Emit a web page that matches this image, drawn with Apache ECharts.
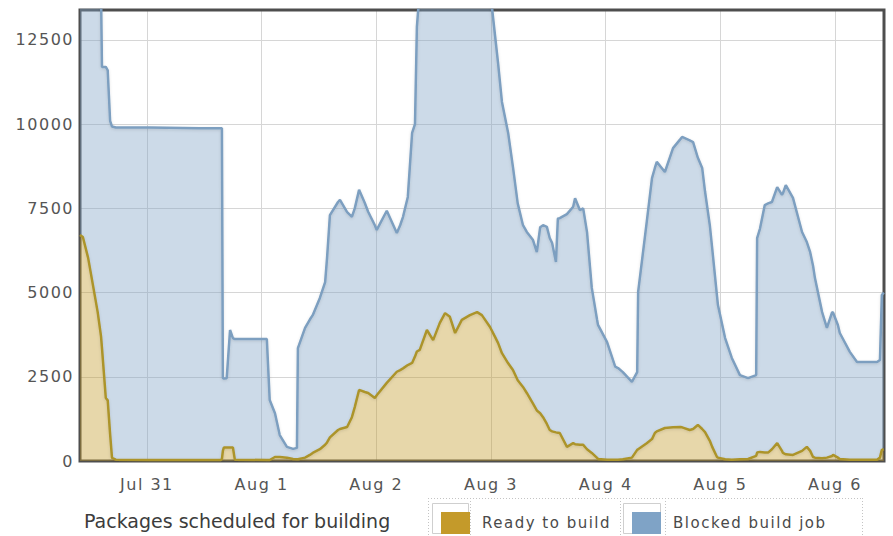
<!DOCTYPE html>
<html>
<head>
<meta charset="utf-8">
<script src="https://cdn.jsdelivr.net/npm/echarts@6/dist/echarts.min.js"></script>
<style>
  html, body { margin: 0; padding: 0; background: #fff; }
  #chart { width: 893px; height: 536px; }
  /* the original labels are letter-spaced, the caption is not */
  #chart text { letter-spacing: 1.5px; }
  #chart text[fill="#3c3c3c"] { letter-spacing: 0; }
</style>
</head>
<body>
<div id="chart"></div>
<script>
// hours from Jul 31 00:00
const hours = [-14.0, -13.4, -12.3, -11.3, -10.3, -9.6, -9.4, -8.6, -8.2, -7.7, -7.3, -6.5, 0.6, 11.1, 15.5, 15.7, 15.9, 16.1, 16.7, 17.4,
  18.0, 18.4, 25.1, 25.7, 26.8, 27.8, 29.3, 30.6, 31.4, 31.6, 33.1, 34.1, 34.7, 36.2, 37.3, 37.7, 38.3, 40.0, 40.4, 41.9,
  42.9, 43.5, 44.4, 45.6, 46.3, 47.7, 48.1, 50.2, 52.3, 53.0, 53.6, 54.6, 55.5, 56.1, 56.5, 57.1, 58.6, 59.9, 61.3, 62.4,
  63.4, 64.5, 65.9, 67.6, 69.1, 70.1, 71.8, 72.8, 73.5, 74.3, 75.6, 76.6, 77.6, 78.7, 79.5, 80.8, 81.6, 82.3, 82.9, 83.7,
  84.3, 84.8, 85.6, 86.0, 86.4, 87.9, 89.2, 89.6, 90.6, 91.3, 92.1, 93.1, 94.2, 94.4, 96.3, 98.0, 98.6, 99.6, 101.5, 102.6,
  102.8, 104.6, 105.7, 106.3, 106.7, 108.4, 110.1, 111.6, 112.0, 113.6, 114.3, 115.3, 116.2, 116.8, 117.8, 118.3, 119.3, 119.5, 121.0, 122.4,
  124.1, 125.8, 127.5, 127.7, 128.3, 129.3, 130.0, 130.8, 131.9, 132.9, 133.1, 133.7, 135.2, 137.1, 138.1, 138.8, 139.4, 139.8, 141.3, 142.3,
  143.4, 143.6, 144.6, 145.0, 147.1, 148.6, 152.8, 153.4, 153.8, 154.2];

const ready = [6710, 6650, 6030, 5230, 4420, 3700, 3350, 1870, 1800, 800, 90, 40, 30, 30, 30, 60, 300, 400, 400, 400,
  400, 40, 30, 30, 120, 120, 100, 60, 50, 50, 100, 180, 240, 350, 480, 550, 700, 920, 950, 1010,
  1300, 1600, 2110, 2050, 2020, 1870, 1950, 2320, 2650, 2700, 2750, 2850, 2910, 3100, 3250, 3300, 3890, 3590, 4100, 4390,
  4280, 3800, 4190, 4330, 4420, 4330, 3980, 3700, 3500, 3200, 2900, 2700, 2400, 2200, 2020, 1700, 1500, 1420, 1300, 1100,
  920, 880, 850, 840, 830, 420, 530, 500, 480, 480, 350, 240, 90, 60, 40, 40, 40, 50, 100, 330,
  350, 530, 650, 830, 880, 980, 1000, 1010, 1000, 920, 950, 1070, 950, 860, 600, 420, 120, 100, 50, 40,
  50, 60, 150, 250, 270, 250, 250, 350, 530, 300, 240, 200, 180, 300, 420, 300, 120, 100, 80, 100,
  150, 180, 100, 60, 40, 40, 40, 100, 330, 350];

const blocked = [7290, 7350, 7970, 8770, 9580, 10200, 8350, 9830, 9800, 9300, 9840, 9860, 9870, 9850, 9850, 9820, 2160, 2050, 2060, 3490,
  3250, 3580, 3590, 1780, 1300, 650, 320, 300, 340, 3300, 3850, 4020, 4090, 4490, 4830, 5480, 6600, 6770, 6800, 6380,
  5950, 5900, 5940, 5610, 5380, 5130, 4910, 5110, 4120, 4300, 4500, 4990, 6830, 6900, 9640, 10700, 10110, 10410, 9900, 9610,
  9720, 10200, 9810, 9670, 9580, 9670, 10020, 9000, 8300, 7460, 6840, 6030, 5250, 4800, 4780, 4860, 4700, 5520, 5700, 5850,
  5700, 5590, 5060, 6360, 6380, 6910, 7020, 7300, 6970, 7020, 6450, 4900, 4110, 3980, 3490, 2760, 2720, 2590, 2250, 2310,
  4670, 6570, 7750, 7870, 8000, 7600, 8290, 8540, 8620, 8600, 8520, 7930, 7750, 7140, 6400, 5890, 4780, 4530, 3600, 3020,
  2500, 2400, 2400, 6370, 6630, 7350, 7400, 7340, 7600, 7600, 7710, 7990, 7630, 6500, 6080, 5900, 5680, 5330, 4340, 3850,
  4270, 4220, 3940, 3740, 3200, 2900, 2900, 2900, 4600, 4650];

const monthNames = ['Jan', 'Feb', 'Mar', 'Apr', 'May', 'Jun', 'Jul', 'Aug', 'Sep', 'Oct', 'Nov', 'Dec'];
const seriesNames = ['Ready to build', 'Blocked build job'];

const HOUR = 3600 * 1000;
const t0 = new Date(2012, 6, 31).getTime();
const readyData = hours.map((h, i) => [t0 + h * HOUR, ready[i]]);
const blockedData = hours.map((h, i) => [t0 + h * HOUR, blocked[i]]);

const chart = echarts.init(document.getElementById('chart'), null, { renderer: 'svg' });

const dotted = { stroke: '#c4c4c4', lineWidth: 1, lineDash: [1, 2] };

chart.setOption({
    animation: false,
    backgroundColor: '#fff',
    textStyle: { fontFamily: 'DejaVu Sans' },
    title: {
        text: 'Packages scheduled for building',
        left: 84, top: 511, padding: 0,
        textStyle: { fontSize: 19, fontWeight: 'normal', color: '#3c3c3c', fontFamily: 'DejaVu Sans' }
    },
    grid: {
        left: 80, right: 9, top: 10, bottom: 75, z: 3,
        show: true, backgroundColor: 'transparent', borderColor: '#4e4e4e', borderWidth: 3
    },
    legend: [
        { data: [seriesNames[0]], left: 436, top: 507 },
        { data: [seriesNames[1]], left: 627, top: 507 }
    ].map(l => Object.assign(l, {
        icon: 'rect', itemWidth: 29, itemHeight: 22, selectedMode: false,
        itemStyle: { borderWidth: 0 },
        textStyle: { fontSize: 15, color: '#4a4a4a', padding: [0, 0, 0, 7] }
    })),
    graphic: [
        { type: 'rect', shape: { x: 432.5, y: 503.5, width: 36, height: 30 }, style: { fill: '#fff', stroke: '#cfcfcf', lineWidth: 1 } },
        { type: 'rect', shape: { x: 623.5, y: 503.5, width: 37, height: 30 }, style: { fill: '#fff', stroke: '#cfcfcf', lineWidth: 1 } },
        { type: 'line', shape: { x1: 428, y1: 498.5, x2: 862, y2: 498.5 }, style: dotted },
        { type: 'line', shape: { x1: 428.5, y1: 498, x2: 428.5, y2: 536 }, style: dotted },
        { type: 'line', shape: { x1: 470.5, y1: 498, x2: 470.5, y2: 536 }, style: dotted },
        { type: 'line', shape: { x1: 620.5, y1: 498, x2: 620.5, y2: 536 }, style: dotted },
        { type: 'line', shape: { x1: 665.5, y1: 498, x2: 665.5, y2: 536 }, style: dotted },
        { type: 'line', shape: { x1: 862.5, y1: 498, x2: 862.5, y2: 536 }, style: dotted }
    ],
    xAxis: {
        type: 'time',
        min: t0 - 14 * HOUR,
        max: t0 + 154.25 * HOUR,
        minInterval: 24 * HOUR,
        maxInterval: 24 * HOUR,
        axisLine: { show: false },
        axisTick: { show: false },
        splitLine: { show: true, lineStyle: { color: '#d6d6d6', width: 1 } },
        axisLabel: {
            color: '#555', fontSize: 16, margin: 15,
            showMinLabel: false, showMaxLabel: false,
            formatter: v => {
                const d = new Date(v);
                return monthNames[d.getMonth()] + ' ' + d.getDate();
            }
        }
    },
    yAxis: {
        type: 'value',
        min: 0, max: 13390, interval: 2500,
        axisLine: { show: false },
        axisTick: { show: false },
        splitLine: { lineStyle: { color: '#d6d6d6', width: 1 } },
        axisLabel: { color: '#555', fontSize: 16, margin: 6, showMaxLabel: false, formatter: v => String(v) }
    },
    series: [
        {
            name: seriesNames[0], type: 'line', stack: 'jobs', data: readyData,
            showSymbol: false, symbol: 'none',
            itemStyle: { color: '#c49a2a' },
            lineStyle: { color: '#ac942c', width: 2.5, shadowColor: 'rgba(0,0,0,0.12)', shadowBlur: 3, shadowOffsetY: 1 },
            areaStyle: { color: '#c49a2a', opacity: 0.4 }
        },
        {
            name: seriesNames[1], type: 'line', stack: 'jobs', data: blockedData,
            showSymbol: false, symbol: 'none',
            itemStyle: { color: '#7fa3c6' },
            lineStyle: { color: '#7d9fc0', width: 2.5, shadowColor: 'rgba(0,0,0,0.12)', shadowBlur: 3, shadowOffsetY: 1 },
            areaStyle: { color: '#7fa3c6', opacity: 0.4 }
        }
    ]
});
</script>
</body>
</html>
